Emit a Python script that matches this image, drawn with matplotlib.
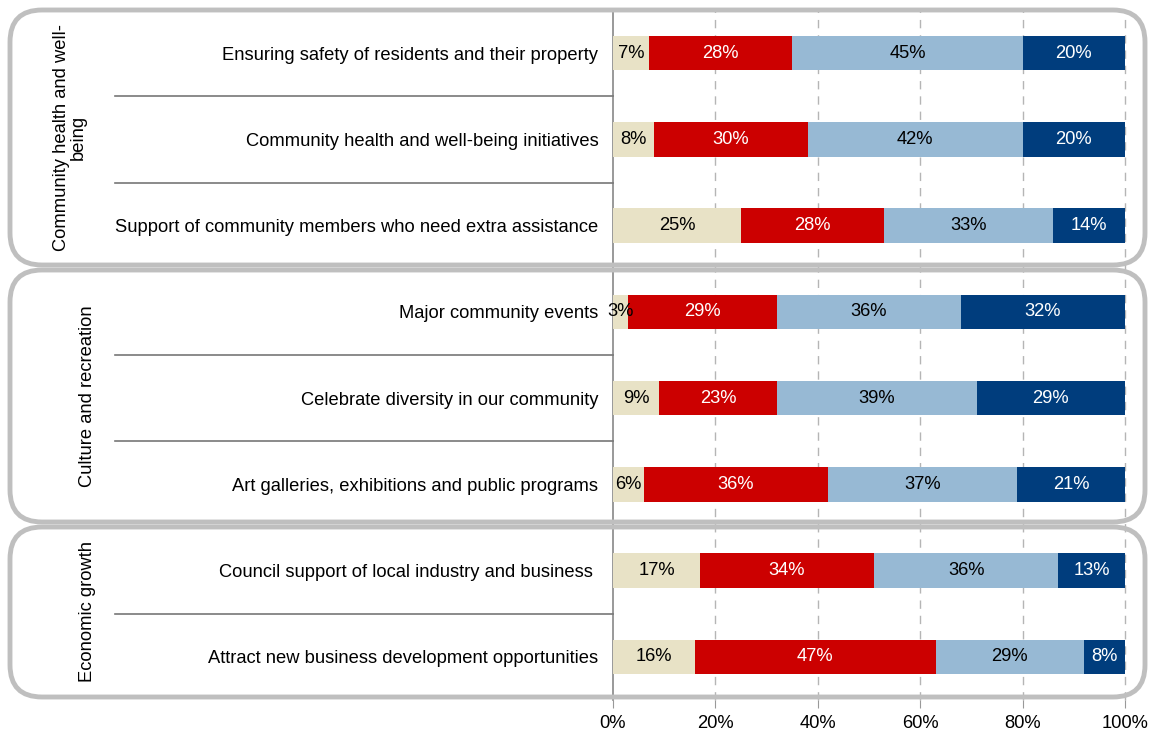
import matplotlib.pyplot as plt
import matplotlib.transforms as mtransforms
from matplotlib.patches import FancyBboxPatch
import numpy as np

plt.rcParams['font.family'] = ['Liberation Sans', 'DejaVu Sans']

items = ['Ensuring safety of residents and their property',
         'Community health and well-being initiatives',
         'Support of community members who need extra assistance',
         'Major community events',
         'Celebrate diversity in our community',
         'Art galleries, exhibitions and public programs',
         'Council support of local industry and business ',
         'Attract new business development opportunities']
groups = ['Community health and well-\nbeing', 'Culture and recreation', 'Economic growth']
group_sizes = [3, 3, 2]

seg1 = [7, 8, 25, 3, 9, 6, 17, 16]
seg2 = [28, 30, 28, 29, 23, 36, 34, 47]
seg3 = [45, 42, 33, 36, 39, 37, 36, 29]
seg4 = [20, 20, 14, 32, 29, 21, 13, 8]

colors = ['#E8E2C6', '#CC0000', '#97B9D4', '#003D7D']
text_colors = ['black', 'white', 'black', 'white']
fs = 13.2

W, H = 1157, 735
fig = plt.figure(figsize=(W / 100, H / 100), dpi=100)
ax = fig.add_axes([613 / W, (H - 700) / H, (1125 - 613) / W, 690 / H])

# pixel coords, origin top-left
px = mtransforms.Affine2D().scale(1 / W, -1 / H).translate(0, 1) + fig.transFigure

y = np.arange(len(items))
left = np.zeros(len(items))
for vals, c, tc in zip([seg1, seg2, seg3, seg4], colors, text_colors):
    vals = np.array(vals, dtype=float)
    ax.barh(y, vals, left=left, height=0.4, color=c, zorder=3)
    for yi, l, v in zip(y, left, vals):
        ax.text(l + v / 2, yi, f'{v:.0f}%', ha='center', va='center',
                color=tc, fontsize=fs, zorder=4)
    left += vals

ax.set_xlim(0, 100)
ax.set_ylim(len(items) - 0.5, -0.5)
ax.set_xticks(range(0, 101, 20))
ax.set_xticklabels([f'{t}%' for t in range(0, 101, 20)], fontsize=fs)
ax.set_yticks(y)
ax.set_yticklabels(items, fontsize=fs)
ax.tick_params(axis='y', length=0, pad=10.5)
ax.tick_params(axis='x', length=6, color='#999999', pad=5)
for t in range(20, 101, 20):
    ax.axvline(t, color='#B5B5B5', lw=1, ls=(0, (6, 5)), zorder=1, clip_on=False)
for s in ['top', 'right', 'bottom']:
    ax.spines[s].set_visible(False)
ax.spines['left'].set_color('#888888')
ax.spines['left'].set_linewidth(1.2)

# separators between item labels
sep = mtransforms.blended_transform_factory(px, ax.transData)
start = 0
for n in group_sizes:
    for k in range(start, start + n - 1):
        fig.add_artist(plt.Line2D([115, 613], [k + 0.5, k + 0.5], transform=sep,
                                  color='#777777', lw=1.2))
    start += n

# rounded group frames and group titles
frames = [(10, 10, 265), (10, 270, 522), (10, 527, 697)]
title_x = [70, 88, 88]
for (x0, y0, y1), g, tx in zip(frames, groups, title_x):
    box = FancyBboxPatch((x0, y0), 1145 - x0, y1 - y0,
                         boxstyle='round,pad=0,rounding_size=32',
                         transform=px, fill=False, ec='#BFBFBF', lw=3.5)
    fig.add_artist(box)
    fig.text(tx, (y0 + y1) / 2, g, transform=px, rotation=90, ha='center',
             va='center', fontsize=fs, linespacing=0.95)

fig.savefig('out.png', dpi=100)
